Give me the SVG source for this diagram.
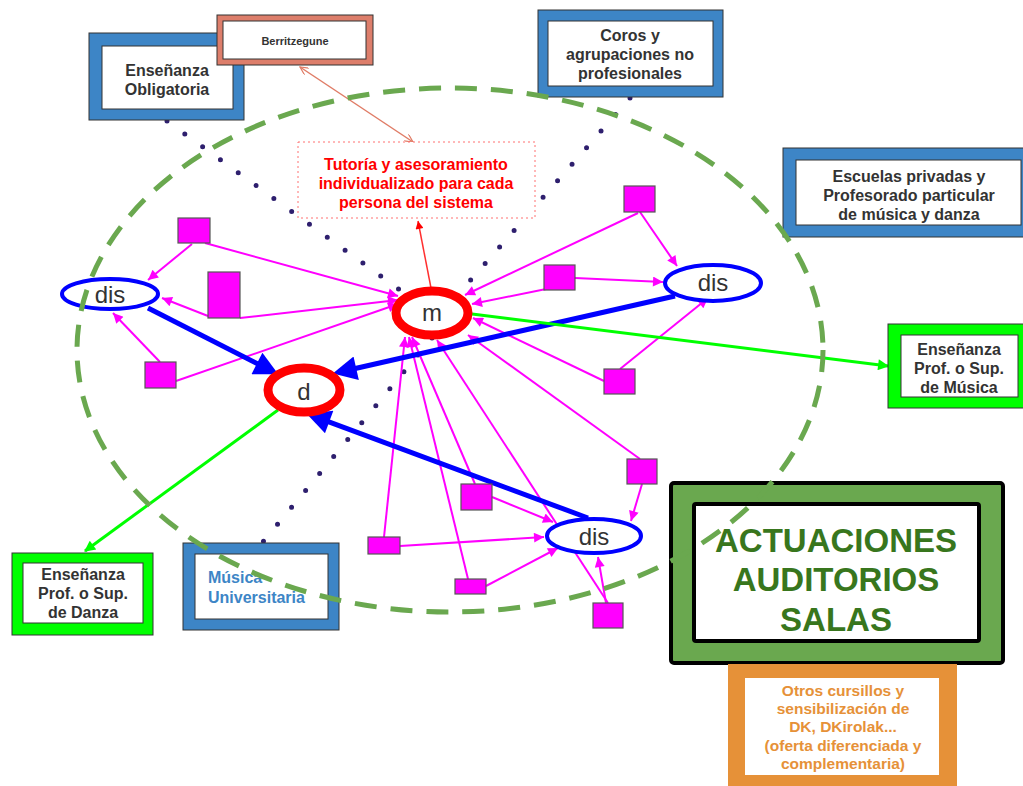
<svg xmlns="http://www.w3.org/2000/svg" width="1023" height="786" viewBox="0 0 1023 786">
<defs>
<style>
.t{font-family:"Liberation Sans",Arial,sans-serif;font-weight:bold;font-size:16px;fill:#333;text-anchor:middle}
.n{font-family:"Liberation Sans",Arial,sans-serif;font-size:24px;fill:#333;text-anchor:middle}
.mg{stroke:#ff00ff;stroke-width:2;fill:none;marker-end:url(#amg)}
.sq{fill:#ff00ff;stroke:#555;stroke-width:1.2}
.dot{stroke:#2e1f6e;stroke-width:5;stroke-linecap:round;stroke-dasharray:0 22;fill:none}
.bl{stroke:#0000ff;stroke-width:5;fill:none;marker-end:url(#abl)}
.gr{stroke:#00ff00;stroke-width:3;fill:none;marker-end:url(#agr)}
.ol{stroke:#333;stroke-width:1}
</style>
<marker id="amg" viewBox="0 0 10 10" refX="10" refY="5" markerWidth="13" markerHeight="10" markerUnits="userSpaceOnUse" orient="auto"><path d="M0,0 L10,5 L0,10 z" fill="#ff00ff"/></marker>
<marker id="abl" viewBox="0 0 10 10" refX="7" refY="5" markerWidth="30" markerHeight="24" markerUnits="userSpaceOnUse" orient="auto"><path d="M0,0 L10,5 L0,10 z" fill="#0000ff"/></marker>
<marker id="agr" viewBox="0 0 10 10" refX="9" refY="5" markerWidth="13" markerHeight="11" markerUnits="userSpaceOnUse" orient="auto"><path d="M0,0 L10,5 L0,10 z" fill="#00ff00"/></marker>
<marker id="ard" viewBox="0 0 10 10" refX="10" refY="5" markerWidth="9" markerHeight="8" markerUnits="userSpaceOnUse" orient="auto"><path d="M0,0 L10,5 L0,10 z" fill="#ff0000"/></marker>
<marker id="asl" viewBox="0 0 10 10" refX="10" refY="5" markerWidth="10" markerHeight="8" markerUnits="userSpaceOnUse" orient="auto-start-reverse"><path d="M0,0 L10,5 L0,10" fill="none" stroke="#e07c66" stroke-width="1.5"/></marker>
</defs>
<rect width="1023" height="786" fill="#fff"/>

<g id="connectors">
<line class="dot" x1="167" y1="121" x2="400" y2="290"/>
<line class="dot" x1="630" y1="98" x2="462" y2="290"/>
<line class="dot" x1="432" y1="338" x2="262" y2="543"/>

<line x1="413" y1="142" x2="300" y2="67" stroke="#e07c66" stroke-width="1.5" marker-start="url(#asl)" marker-end="url(#asl)"/>
<line x1="431" y1="288" x2="418" y2="221" stroke="#ff3030" stroke-width="1.5" marker-end="url(#ard)"/>

<line class="mg" x1="192" y1="244" x2="148" y2="280"/>
<line class="mg" x1="205" y1="243" x2="398" y2="296"/>
<line class="mg" x1="208" y1="316" x2="162" y2="298"/>
<line class="mg" x1="240" y1="318" x2="398" y2="300"/>
<line class="mg" x1="160" y1="362" x2="113" y2="313"/>
<line class="mg" x1="176" y1="381" x2="398" y2="304"/>
<line class="mg" x1="640" y1="212" x2="677" y2="266"/>
<line class="mg" x1="638" y1="213" x2="465" y2="295"/>
<line class="mg" x1="575" y1="278" x2="663" y2="282"/>
<line class="mg" x1="556" y1="287" x2="472" y2="304"/>
<line class="mg" x1="620" y1="369" x2="708" y2="298"/>
<line class="mg" x1="604" y1="381" x2="473" y2="318"/>
<line class="mg" x1="642" y1="484" x2="631" y2="521"/>
<line class="mg" x1="640" y1="459" x2="468" y2="335"/>
<line class="mg" x1="492" y1="497" x2="553" y2="522"/>
<line class="mg" x1="475" y1="484" x2="412" y2="337"/>
<line class="mg" x1="400" y1="546" x2="544" y2="537"/>
<line class="mg" x1="384" y1="537" x2="405" y2="337"/>
<line class="mg" x1="486" y1="586" x2="558" y2="548"/>
<line class="mg" x1="468" y1="579" x2="409" y2="337"/>
<line class="mg" x1="606" y1="603" x2="598" y2="557"/>
<line class="mg" x1="608" y1="603" x2="437" y2="340"/>

<line class="bl" x1="148" y1="308" x2="271.9" y2="371.1"/>
<line class="bl" x1="675" y1="296" x2="339.8" y2="372"/>
<line class="bl" x1="588" y1="518" x2="313.4" y2="416.2"/>

<line class="gr" x1="472" y1="314" x2="888" y2="366"/>
<line class="gr" x1="278" y1="410" x2="85" y2="551"/>
</g>

<g id="squares">
<rect class="sq" x="178" y="218" width="32" height="25"/>
<rect class="sq" x="208" y="272" width="32" height="46"/>
<rect class="sq" x="145" y="362" width="31" height="26"/>
<rect class="sq" x="624" y="186" width="31" height="26"/>
<rect class="sq" x="544" y="265" width="31" height="25"/>
<rect class="sq" x="604" y="369" width="31" height="25"/>
<rect class="sq" x="627" y="459" width="30" height="25"/>
<rect class="sq" x="461" y="484" width="31" height="26"/>
<rect class="sq" x="368" y="537" width="32" height="17"/>
<rect class="sq" x="455" y="579" width="31" height="15"/>
<rect class="sq" x="593" y="603" width="30" height="25"/>
</g>

<g id="node-m">
<ellipse cx="432" cy="313" rx="36" ry="22" fill="#fff" stroke="#ff0000" stroke-width="9"/>
<text class="n" x="432" y="321">m</text>
</g>
<g id="node-d">
<ellipse cx="304" cy="390" rx="36" ry="22" fill="#fff" stroke="#ff0000" stroke-width="9"/>
<text class="n" x="304" y="400">d</text>
</g>
<g id="node-dis-left">
<ellipse cx="110" cy="294" rx="48" ry="15" fill="#fff" stroke="#0000ff" stroke-width="4"/>
<text class="n" x="110" y="303">dis</text>
</g>
<g id="node-dis-right">
<ellipse cx="713" cy="283" rx="48" ry="18" fill="#fff" stroke="#0000ff" stroke-width="4"/>
<text class="n" x="713" y="291">dis</text>
</g>
<g id="node-dis-bottom">
<ellipse cx="594" cy="536" rx="47" ry="17" fill="#fff" stroke="#0000ff" stroke-width="4"/>
<text class="n" x="594" y="545">dis</text>
</g>

<g id="tutoria">
<rect x="298" y="142" width="237" height="76" fill="#fff" stroke="#ff7070" stroke-width="1" stroke-dasharray="2 3"/>
<text class="t" x="416" y="170" style="fill:#ff0000">Tutoría y asesoramiento</text>
<text class="t" x="416" y="189" style="fill:#ff0000">individualizado para cada</text>
<text class="t" x="416" y="208" style="fill:#ff0000">persona del sistema</text>
</g>

<g id="obligatoria">
<rect class="ol" x="89" y="33" width="155" height="87" fill="#3d85c6"/>
<rect class="ol" x="102" y="46" width="131" height="63" fill="#fff"/>
<text class="t" x="167" y="76">Enseñanza</text>
<text class="t" x="167" y="95">Obligatoria</text>
</g>

<g id="berritzegune">
<rect class="ol" x="217" y="15" width="156" height="50" fill="#dd7e6b"/>
<rect class="ol" x="223" y="21" width="143" height="38" fill="#fff"/>
<text class="t" x="295" y="45" style="font-size:11px">Berritzegune</text>
</g>

<g id="coros">
<rect class="ol" x="538" y="10" width="185" height="87" fill="#3d85c6"/>
<rect class="ol" x="548" y="21" width="165" height="65" fill="#fff"/>
<text class="t" x="630" y="41">Coros y</text>
<text class="t" x="630" y="60">agrupaciones no</text>
<text class="t" x="630" y="79">profesionales</text>
</g>

<g id="escuelas">
<rect class="ol" x="783" y="148" width="250" height="89" fill="#3d85c6"/>
<rect class="ol" x="796" y="160" width="225" height="65" fill="#fff"/>
<text class="t" x="909" y="182">Escuelas privadas y</text>
<text class="t" x="909" y="201">Profesorado particular</text>
<text class="t" x="909" y="220">de música y danza</text>
</g>

<g id="prof-musica">
<rect class="ol" x="888" y="324" width="145" height="84" fill="#00ff00"/>
<rect class="ol" x="901" y="335" width="117" height="62" fill="#fff"/>
<text class="t" x="959" y="355">Enseñanza</text>
<text class="t" x="959" y="374">Prof. o Sup.</text>
<text class="t" x="959" y="393">de Música</text>
</g>

<g id="prof-danza">
<rect class="ol" x="12" y="553" width="141" height="82" fill="#00ff00"/>
<rect class="ol" x="23" y="563" width="120" height="60" fill="#fff"/>
<text class="t" x="83" y="580">Enseñanza</text>
<text class="t" x="83" y="599">Prof. o Sup.</text>
<text class="t" x="83" y="618">de Danza</text>
</g>

<g id="musica-universitaria">
<rect class="ol" x="183" y="543" width="156" height="87" fill="#3d85c6"/>
<rect class="ol" x="195" y="554" width="133" height="65" fill="#fff"/>
<text class="t" x="208" y="583" style="fill:#3d85c6;text-anchor:start">Música</text>
<text class="t" x="208" y="603" style="fill:#3d85c6;text-anchor:start">Universitaria</text>
</g>

<g id="actuaciones">
<rect x="671" y="483" width="332" height="180" rx="3" fill="#6aa84f" stroke="#000" stroke-width="4"/>
<rect x="694" y="504" width="285" height="137" rx="2" fill="#fff" stroke="#000" stroke-width="4"/>
<text class="t" x="836" y="552" style="fill:#38761d;font-size:33px">ACTUACIONES</text>
<text class="t" x="836" y="591" style="fill:#38761d;font-size:33px">AUDITORIOS</text>
<text class="t" x="836" y="631" style="fill:#38761d;font-size:33px">SALAS</text>
</g>

<g id="otros">
<rect x="728" y="664" width="229" height="130" fill="#e69138"/>
<rect x="745" y="678" width="194" height="97" fill="#fff"/>
<text class="t" x="843" y="696" style="fill:#e69138;font-size:15.5px">Otros cursillos y</text>
<text class="t" x="843" y="714" style="fill:#e69138;font-size:15.5px">sensibilización de</text>
<text class="t" x="843" y="732" style="fill:#e69138;font-size:15.5px">DK, DKirolak...</text>
<text class="t" x="843" y="751" style="fill:#e69138;font-size:15.5px">(oferta diferenciada y</text>
<text class="t" x="843" y="769" style="fill:#e69138;font-size:15.5px">complementaria)</text>
</g>

<g id="system-boundary">
<ellipse cx="450" cy="350" rx="373" ry="262" fill="none" stroke="#6aa84f" stroke-width="5" stroke-dasharray="22 14"/>
</g>
</svg>
